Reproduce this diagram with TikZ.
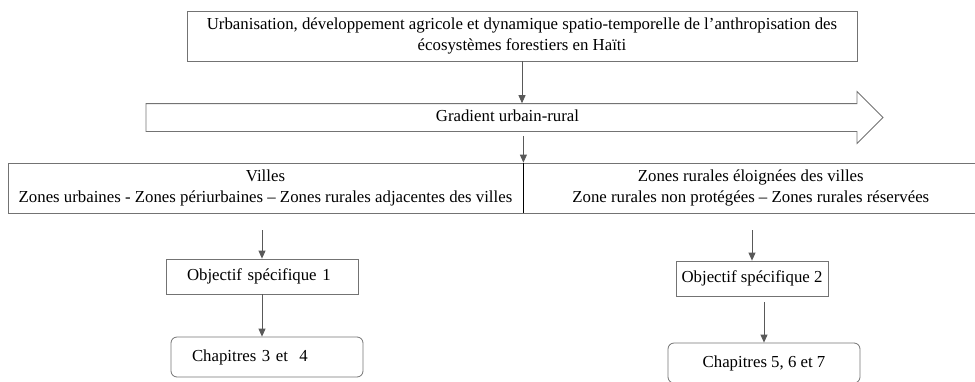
\documentclass[tikz,border=0pt]{standalone}
\usepackage{fontspec}
\setmainfont{Liberation Serif}
\usetikzlibrary{positioning,shapes.arrows,arrows.meta}

\begin{document}
\begin{tikzpicture}[x=1pt,y=-1pt,font=\fontsize{16.8}{21}\selectfont,
    boite/.style={draw=black!55,line width=.8pt,inner sep=0pt,align=center},
    gauche/.style={text width=150pt,inner xsep=21pt,align=left},
    fleche/.style={draw=black!65,line width=.8pt,-{Triangle[length=8pt,width=7pt]}}]
    \clip (0,0) rectangle (975,381);

    \node[boite,minimum width=670pt,minimum height=50pt] (titre) at (522,36)
      {Urbanisation, développement agricole et dynamique spatio-temporelle de l’anthropisation des\\écosystèmes forestiers en Haïti};
    \node[single arrow,draw=black!55,line width=.8pt,minimum height=737pt,
      single arrow head extend=12pt,text height=11pt,text depth=4pt,
      inner ysep=6pt,inner xsep=0pt] (gradient) at (507.5,117.5) {Gradient urbain-rural};

    \node[boite,minimum width=515pt,minimum height=50pt] (villes) at (265.5,188)
      {Villes\\Zones urbaines - Zones périurbaines – Zones rurales adjacentes des villes};
    \node[boite,minimum width=454pt,minimum height=50pt,anchor=west] (rural) at (villes.east)
      {Zones rurales éloignées des villes\\Zone rurales non protégées – Zones rurales réservées};
    \draw[line width=.9pt] (villes.north east) -- (villes.south east); % separation

    \node[boite,gauche,minimum height=35pt] (obj1) at (262,276.5) {Objectif spécifique 1};
    \node[boite,gauche,minimum height=40pt,rounded corners=6pt] (chap1) at (267,357) {Chapitres 3 et~~4};
    \node[boite,minimum width=152pt,minimum height=35pt] (obj2) at (752,278.5) {Objectif spécifique 2};
    \node[boite,minimum width=192pt,minimum height=40pt,rounded corners=6pt] (chap2) at (764,363) {Chapitres 5, 6 et 7};

    \draw[fleche] (titre.south) -- (titre.south |- gradient.90);
    \draw[fleche,shorten <=4pt] (villes.north east |- gradient.270) -- (villes.north east);
    \draw[fleche,shorten <=17pt] (obj1.north |- villes.south) -- (obj1.north);
    \draw[fleche] (obj1.south) -- (obj1.south |- chap1.north);
    \draw[fleche,shorten <=17pt] (obj2.north |- rural.south) -- (obj2.north);
    \draw[fleche,shorten <=6pt] (chap2.north |- obj2.south) -- (chap2.north);
\end{tikzpicture}
\end{document}
